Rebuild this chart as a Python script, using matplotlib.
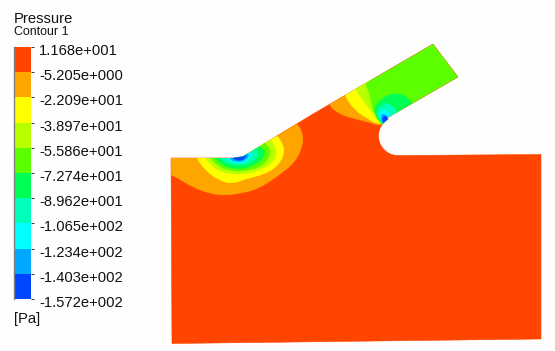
import numpy as np
import matplotlib
matplotlib.use("Agg")
import matplotlib.pyplot as plt
from matplotlib.patches import Polygon, PathPatch
from matplotlib.path import Path
from matplotlib.transforms import ScaledTranslation

plt.rcParams['font.family'] = ['Liberation Sans', 'DejaVu Sans']

W, H = 555, 351
level_labels = ['1.168e+001', '-5.205e+000', '-2.209e+001', '-3.897e+001', '-5.586e+001',
                '-7.274e+001', '-8.962e+001', '-1.065e+002', '-1.234e+002', '-1.403e+002', '-1.572e+002']
band_colors = ['#ff4500', '#ffa500', '#ffff00', '#b8ff00', '#5cff00',
               '#00ff55', '#00ffb8', '#00ffff', '#00a8ff', '#0045ff']

RED, ORANGE, YELLOW, YG, GREEN, SPRING, TEAL, CYAN, LBLUE, BLUE = band_colors

# Domain outline, picture coordinates
outline_top = [(171, 158), (233, 158), (243, 156.5), (313, 114), (433, 44), (458, 77), (387, 118)]
outline_bottom = [(541, 154.5), (541, 339), (172, 343.5)]
arc_t = np.radians(np.linspace(-120, -270, 30))
arc = list(zip(398 + 19.5 * np.cos(arc_t), 136 + 19.5 * np.sin(arc_t)))
domain = outline_top + arc + outline_bottom

# Contour regions near the elbow (reference crop coordinates: 165+x/3, 110+y/3)
elbow_orange = [(0, 120), (0, 185), (18, 195), (40, 205), (80, 230), (130, 250), (180, 257), (230, 249), (280, 237),
                (340, 197), (390, 157), (412, 110), (415, 75), (395, 35), (300, 0), (100, 60)]
elbow_yellow = [(95, 125), (95, 145), (120, 180), (160, 210), (200, 222), (240, 207), (300, 192), (340, 167),
                (360, 125), (350, 95), (330, 70), (250, 60)]
elbow_yg = [(115, 125), (120, 145), (150, 177), (190, 192), (250, 192), (290, 177), (320, 162), (337, 130),
            (325, 100), (312, 80), (240, 70)]
elbow_green = [(130, 125), (135, 145), (165, 172), (200, 184), (250, 182), (295, 167), (320, 130), (305, 105),
               (295, 90), (230, 80)]
elbow_spring = [(145, 125), (150, 145), (175, 167), (210, 177), (250, 174), (290, 152), (302, 125), (280, 105),
                (270, 90), (220, 90)]
elbow_teal = [(160, 125), (165, 145), (190, 162), (230, 167), (270, 152), (282, 125), (262, 113), (250, 95), (210, 100)]
elbow_cyan = [(180, 125), (185, 145), (205, 160), (240, 157), (262, 135), (248, 120), (240, 105), (210, 110)]
elbow_lblue = [(190, 125), (190, 145), (215, 157), (240, 152), (254, 135), (240, 125), (230, 110), (210, 115)]
elbow_blue = [(200, 125), (200, 145), (225, 153), (242, 144), (240, 128), (225, 115)]

# Contour regions at the notch (reference crop coordinates: 320+x/3, 35+y/3)
notch_orange = [(28, 195), (30, 215), (60, 238), (110, 253), (150, 262), (182, 275), (215, 240), (140, 110), (60, 160)]
notch_yellow = [(72, 165), (78, 190), (105, 225), (140, 250), (182, 272), (215, 240), (140, 100)]
notch_yg = [(105, 150), (110, 168), (125, 190), (150, 225), (182, 270), (215, 240), (150, 110)]
notch_green = [(132, 125), (138, 150), (150, 180), (155, 215), (170, 245), (185, 268), (300, 270), (450, 130), (340, -20), (200, 60)]
notch_spring = [(190, 275), (165, 240), (163, 215), (185, 190), (215, 176), (245, 177), (265, 190), (285, 215), (240, 280)]
notch_teal = [(190, 270), (171, 242), (171, 225), (185, 210), (205, 204), (222, 218), (238, 240), (210, 275)]
notch_cyan = [(190, 268), (177, 247), (181, 230), (195, 221), (216, 245), (205, 270)]
notch_lblue = [(188, 265), (181, 246), (190, 234), (208, 250), (198, 268)]
notch_blue = [(187, 260), (189, 245), (198, 243), (205, 252), (193, 264)]


def smooth_path(xy):
    """Closed outline through the edge midpoints, with the given vertices as quadratic control points."""
    xy = np.asarray(xy, float)
    mid = (xy + np.roll(xy, -1, axis=0)) / 2
    verts = [mid[-1]]
    codes = [Path.MOVETO]
    for ctrl, end in zip(xy, mid):
        verts += [ctrl, end]
        codes += [Path.CURVE3, Path.CURVE3]
    return Path(verts, codes)


fig = plt.figure(figsize=(W / 100, H / 100), dpi=100, facecolor='#fefefe')
ax = fig.add_axes([0, 0, 1, 1])
ax.set_xlim(0, W)
ax.set_ylim(H, 0)
ax.axis('off')

dom = Polygon(domain, closed=True, facecolor=RED, edgecolor=RED, lw=0.4, zorder=1)
ax.add_patch(dom)


def region(pts, ox, oy, color, z):
    xy = [(ox + x / 3, oy + y / 3) for x, y in pts]
    p = PathPatch(smooth_path(xy), facecolor=color, edgecolor=color, lw=0.3, zorder=z)
    ax.add_patch(p)
    p.set_clip_path(dom)


for z, (pts, c) in enumerate([(elbow_orange, ORANGE), (elbow_yellow, YELLOW), (elbow_yg, YG), (elbow_green, GREEN),
                              (elbow_spring, SPRING), (elbow_teal, TEAL), (elbow_cyan, CYAN),
                              (elbow_lblue, LBLUE), (elbow_blue, BLUE)]):
    region(pts, 165, 110, c, 2 + z)
for z, (pts, c) in enumerate([(notch_orange, ORANGE), (notch_yellow, YELLOW), (notch_yg, YG), (notch_green, GREEN),
                              (notch_spring, SPRING), (notch_teal, TEAL), (notch_cyan, CYAN),
                              (notch_lblue, LBLUE), (notch_blue, BLUE)]):
    region(pts, 320, 35, c, 2 + z)

# Legend colour bar
cax = fig.add_axes([14 / W, 1 - 299 / H, 17 / W, 252 / H])
n = len(band_colors)
cax.barh(np.arange(n) + 0.5, np.ones(n), height=1.0, color=band_colors[::-1], linewidth=0)
cax.set_xlim(0, 1)
cax.set_ylim(0, n)
cax.set_xticks([])
cax.set_yticks(np.arange(n + 1))
cax.set_yticklabels(level_labels[::-1], fontsize=10.6, color='#111111')
cax.yaxis.tick_right()
cax.tick_params(axis='y', length=2.5, width=0.7, color='#333333', pad=3.5)
for lab in cax.get_yticklabels():
    lab.set_transform(lab.get_transform() + ScaledTranslation(0, -2.5 / 100, fig.dpi_scale_trans))
for k, s in cax.spines.items():
    s.set_visible(k == 'left')
    s.set_color('#808080')
    s.set_linewidth(1)

ax.text(14, 19, 'Pressure', fontsize=10.6, color='#111111', ha='left', va='center')
ax.text(14, 32, 'Contour 1', fontsize=8.9, color='#111111', ha='left', va='center')
ax.text(14, 319, '[Pa]', fontsize=10.6, color='#111111', ha='left', va='center')

fig.savefig('out.png', dpi=100, facecolor=fig.get_facecolor())
